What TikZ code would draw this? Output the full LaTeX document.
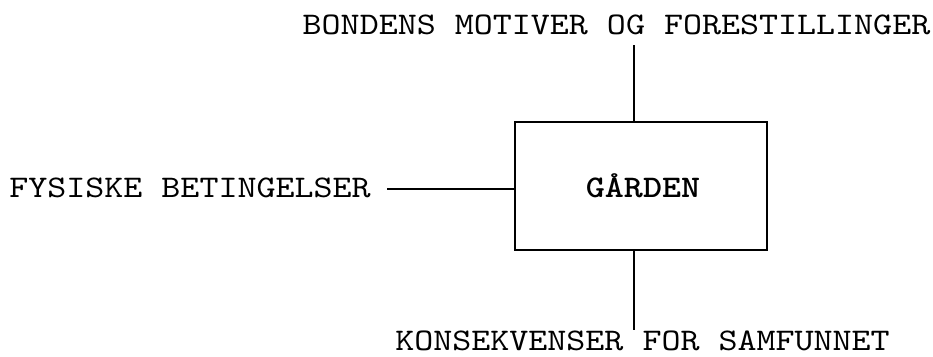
\documentclass[tikz,border=0pt]{standalone}
\usepackage{fontspec}
\newfontfamily\courfont[FakeStretch=1.15,BoldFont=lmmonolt10-bold.otf,BoldFeatures={FakeStretch=1.15}]{lmmono10-regular.otf}
\begin{document}
\begin{tikzpicture}[x=1pt,y=-1pt,
  lbl/.style={inner sep=0pt,anchor=base,font=\courfont\fontsize{31.5}{36}\selectfont},
  conn/.style={line width=2pt},
  boxst/.style={draw,line width=2pt,minimum width=252pt,minimum height=128pt,inner sep=0pt}]
\useasboundingbox (0,0) rectangle (933,356);
\node[lbl] (top) at (616.5,34) {BONDENS MOTIVER OG FORESTILLINGER};
\node[lbl] (left) at (190,197) {FYSISKE BETINGELSER};
\node[lbl] (bot) at (642.5,350) {KONSEKVENSER FOR SAMFUNNET};
\node[boxst] (box) at (641,186) {};
\node[lbl,font=\courfont\fontsize{31.5}{36}\selectfont\bfseries] (gard) at (643,197) {GÅRDEN};
\coordinate (t1) at (634,45);
\coordinate (b1) at (634,330);
\coordinate (l1) at (387,189);
\draw[conn] (t1) -- (t1 |- box.north);
\draw[conn] (b1 |- box.south) -- (b1);
\draw[conn] (l1) -- (l1 -| box.west);
\end{tikzpicture}
\end{document}
